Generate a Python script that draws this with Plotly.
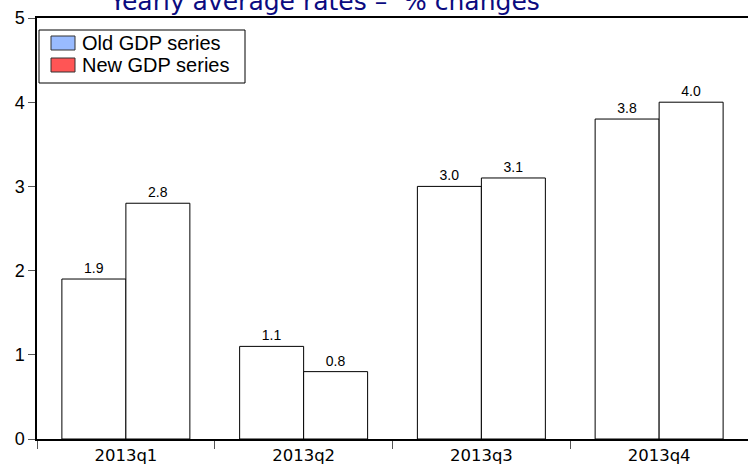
import plotly.graph_objects as go

categories = ["2013q1", "2013q2", "2013q3", "2013q4"]
old_gdp = [1.9, 1.1, 3.0, 3.8]
new_gdp = [2.8, 0.8, 3.1, 4.0]
series_names = ["Old GDP series", "New GDP series"]
legend_colors = ["#99BBFF", "#FF5555"]
title_text = "Yearly average rates –  % changes"

W, H = 748, 471
ML, MR, MT, MB = 37, 0, 18, 32
PW, PH = W - ML - MR, H - MT - MB


def px_x(px):
    return (px - ML) / PW


def px_y(py):
    return 1 - (py - MT) / PH


fig = go.Figure()
for i, (name, vals) in enumerate(zip(series_names, [old_gdp, new_gdp])):
    fig.add_trace(go.Bar(
        x=categories, y=vals, name=name, showlegend=False,
        marker=dict(color="white", line=dict(color="black", width=1)),
        text=[f"{v:.1f}" for v in vals], textposition="outside",
        textfont=dict(family="Arial", size=14, color="black"),
        cliponaxis=False, hoverinfo="skip",
    ))

# legend drawn as layout elements (box, colour patches, labels)
shapes = [dict(type="rect", xref="paper", yref="paper",
               x0=px_x(39), x1=px_x(245), y0=px_y(83), y1=px_y(30),
               line=dict(color="black", width=1), fillcolor="white", layer="above")]
annotations = []
for k, (name, col) in enumerate(zip(series_names, legend_colors)):
    cy = 43 + 22 * k
    shapes.append(dict(type="rect", xref="paper", yref="paper",
                       x0=px_x(51), x1=px_x(75), y0=px_y(cy + 7), y1=px_y(cy - 7),
                       line=dict(color="#333333", width=1), fillcolor=col, layer="above"))
    annotations.append(dict(text=name, xref="paper", yref="paper",
                            x=px_x(80), y=px_y(cy), xanchor="left", yanchor="middle",
                            showarrow=False,
                            font=dict(family="Arial", size=20, color="black")))

annotations.append(dict(
    text=title_text, xref="paper", yref="paper", x=0.405, y=1,
    xanchor="center", yanchor="bottom", yshift=0, showarrow=False,
    font=dict(family="DejaVu Sans", size=25, color="#0B0B80"),
))

fig.update_layout(
    width=W, height=H,
    margin=dict(l=ML, r=MR, t=MT, b=MB),
    paper_bgcolor="white", plot_bgcolor="white",
    barmode="group", bargap=0.28, bargroupgap=0,
    font=dict(family="Arial", color="black"),
    showlegend=False,
    shapes=shapes,
    annotations=annotations,
)
fig.update_xaxes(
    showline=True, linecolor="black", linewidth=1.5, mirror=True,
    ticks="outside", tickson="boundaries", ticklen=8, tickcolor="#555555",
    tickfont=dict(family="DejaVu Sans", size=16.5, color="black"),
    showgrid=False,
)
fig.update_yaxes(
    range=[0, 5], dtick=1, showline=True, linecolor="black", linewidth=1.5,
    ticks="outside", ticklen=7, tickcolor="#555555",
    tickfont=dict(family="Arial", size=18, color="black"),
    showgrid=False, zeroline=False,
)

fig.write_html("out.html")
